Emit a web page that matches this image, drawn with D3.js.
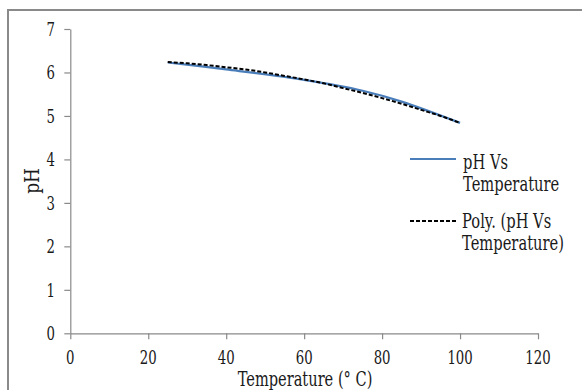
<!DOCTYPE html>
<html><head><meta charset="utf-8">
<script src="https://cdn.jsdelivr.net/npm/d3@7"></script>
<style>body{margin:0;background:#fff}svg{display:block}</style>
</head><body>
<svg id="c" width="582" height="390"></svg>
<script>
// measured series
const tempMeasured = [25, 40, 60, 75, 85, 100];
const phMeasured   = [6.23, 6.07, 5.83, 5.58, 5.33, 4.84];
// polynomial trendline values
const tempPoly = [25,30,35,40,45,50,55,60,65,70,75,80,85,90,95,100];
const phPoly   = [6.24,6.21,6.17,6.12,6.07,6.00,5.92,5.84,5.75,5.64,5.53,5.41,5.28,5.14,5.00,4.84];
const xTicks = [0,20,40,60,80,100,120];
const yTicks = [0,1,2,3,4,5,6,7];
const legendLabels = [["pH Vs","Temperature"],["Poly. (pH Vs","Temperature)"]];

const FONT = "DejaVu Serif";
const svg = d3.select("#c");
function txt(x, y, s, size, anchor, sx){
  return svg.append("text").attr("transform",`translate(${x},${y}) scale(${sx||0.7},1)`)
    .attr("font-family",FONT).attr("fill","#1a1a1a")
    .attr("text-anchor",anchor||"start").attr("font-size",size).text(s);
}
// outer border (extends beyond right/bottom edges)
svg.append("rect").attr("x",8).attr("y",10).attr("width",600).attr("height",400)
  .attr("fill","none").attr("stroke","#8a8a8a").attr("stroke-width",2);

const x = d3.scaleLinear().domain([0,120]).range([70.3,538]);
const y = d3.scaleLinear().domain([0,7]).range([333.3,29]);

const gx = svg.append("g").attr("transform",`translate(0,${y(0)})`)
  .call(d3.axisBottom(x).tickValues(xTicks).tickSize(6).tickSizeOuter(0).tickFormat(""));
const gy = svg.append("g").attr("transform",`translate(${x(0)},0)`)
  .call(d3.axisLeft(y).tickValues(yTicks).tickSize(6).tickSizeOuter(0).tickFormat(""));
[gx,gy].forEach(g=>{g.selectAll("path,line").attr("stroke","#8a8a8a").attr("stroke-width",1.2);});

xTicks.forEach(v=>txt(x(v),364,String(v),19,"middle"));
yTicks.forEach(v=>txt(55,y(v)+7,String(v),19,"end"));

txt(305,386,"Temperature (° C)",20,"middle",0.73);
svg.append("text").attr("transform","translate(39,181) rotate(-90) scale(0.85,1)")
  .attr("font-family",FONT).attr("fill","#1a1a1a")
  .attr("text-anchor","middle").attr("font-size",20).text("pH");

svg.append("path").datum(tempMeasured.map((t,i)=>[t,phMeasured[i]]))
  .attr("d",d3.line().x(d=>x(d[0])).y(d=>y(d[1])).curve(d3.curveCatmullRom.alpha(0.5)))
  .attr("fill","none").attr("stroke","#4a7ebb").attr("stroke-width",2.2);
svg.append("path").datum(tempPoly.map((t,i)=>[t,phPoly[i]]))
  .attr("d",d3.line().x(d=>x(d[0])).y(d=>y(d[1])).curve(d3.curveMonotoneX))
  .attr("fill","none").attr("stroke","#000").attr("stroke-width",2).attr("stroke-dasharray","4,2");

// legend
svg.append("line").attr("x1",410).attr("x2",456).attr("y1",159).attr("y2",159)
  .attr("stroke","#4a7ebb").attr("stroke-width",2.2);
svg.append("line").attr("x1",410).attr("x2",456).attr("y1",221).attr("y2",221)
  .attr("stroke","#000").attr("stroke-width",2).attr("stroke-dasharray","4,2");
txt(463,169,legendLabels[0][0],21);
txt(463,191,legendLabels[0][1],21);
txt(462,228,legendLabels[1][0],21);
txt(462,250,legendLabels[1][1],21);
</script>
</body></html>
